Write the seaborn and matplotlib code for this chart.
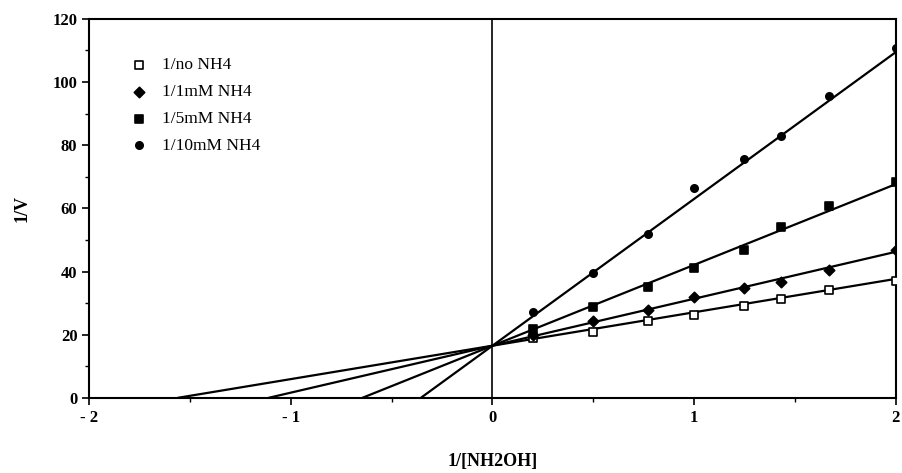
import numpy as np
import pandas as pd
import matplotlib
matplotlib.use("Agg")
import matplotlib.pyplot as plt
import seaborn as sns

# reciprocal substrate concentrations
inv_s = [0.2, 0.5, 0.77, 1.0, 1.25, 1.43, 1.67, 2.0]

no_nh4 = [18.9, 20.7, 24.2, 26.3, 29.1, 31.3, 34.2, 37.1]
nh4_1mM = [19.8, 24.2, 27.7, 31.8, 34.9, 36.8, 40.5, 46.9]
nh4_5mM = [21.7, 28.7, 35.2, 41.0, 46.9, 54.0, 60.8, 68.5]
nh4_10mM = [27.3, 39.5, 51.9, 66.6, 75.6, 83.0, 95.6, 110.7]

labels = ["1/no NH4", "1/1mM NH4", "1/5mM NH4", "1/10mM NH4"]

# fitted lines: common y intercept, individual x intercepts
y_intercept = 16.5
x_intercepts = [-1.56, -1.11, -0.645, -0.355]
x_end = 2.0

x_ticklabels = ["- 2", "- 1", "0", "1", "2"]

sns.set_style("ticks")
plt.rcParams["font.family"] = ["Liberation Serif", "DejaVu Serif"]
plt.rcParams["text.color"] = "black"
plt.rcParams["axes.labelcolor"] = "black"
plt.rcParams["xtick.color"] = "black"
plt.rcParams["ytick.color"] = "black"

fig, ax = plt.subplots(figsize=(9.02, 4.73), dpi=100)
fig.subplots_adjust(left=0.099, right=0.993, top=0.96, bottom=0.159)

series = [no_nh4, nh4_1mM, nh4_5mM, nh4_10mM]
markers = ["s", "D", "s", "o"]
faces = ["white", "black", "black", "black"]
sizes = [28, 28, 40, 28]

# regression lines
for xi in x_intercepts:
    slope = -y_intercept / xi
    line = pd.DataFrame({"x": [xi, x_end], "y": [0, y_intercept + slope * x_end]})
    sns.lineplot(data=line, x="x", y="y", color="black", lw=1.6, ax=ax)

handles = []
for vals, lab, m, fc, s in zip(series, labels, markers, faces, sizes):
    df = pd.DataFrame({"x": inv_s, "y": vals})
    sns.scatterplot(data=df, x="x", y="y", marker=m, s=s, color=fc,
                    edgecolor="black", linewidth=1.2, ax=ax, zorder=3)
    handles.append(ax.collections[-1])

ax.axvline(0, color="black", lw=1.2)

ax.set_xlim(-2, 2)
ax.set_ylim(0, 120)
ax.set_xticks([-2, -1, 0, 1, 2])
ax.set_xticklabels(x_ticklabels)
ax.set_xticks([-1.5, -0.5, 0.5, 1.5], minor=True)
ax.set_yticks(range(0, 121, 20))
ax.set_yticks(range(10, 120, 20), minor=True)
ax.tick_params(which="major", length=5, width=1.2, labelsize=12)
ax.tick_params(which="minor", length=3, width=1)
for t in ax.get_xticklabels() + ax.get_yticklabels():
    t.set_fontweight("bold")

for sp in ax.spines.values():
    sp.set_linewidth(1.5)
    sp.set_color("black")

ax.set_xlabel("1/[NH2OH]", fontsize=13, fontweight="bold", labelpad=20)
ax.set_ylabel("1/V", fontsize=13, fontweight="bold", labelpad=16)

ax.legend(handles, labels, loc="upper left", bbox_to_anchor=(0.034, 0.945),
          frameon=False, fontsize=12.5, handlelength=0.6, handletextpad=1.0,
          labelspacing=0.62, borderaxespad=0.6)

fig.savefig("out.png", dpi=100)
